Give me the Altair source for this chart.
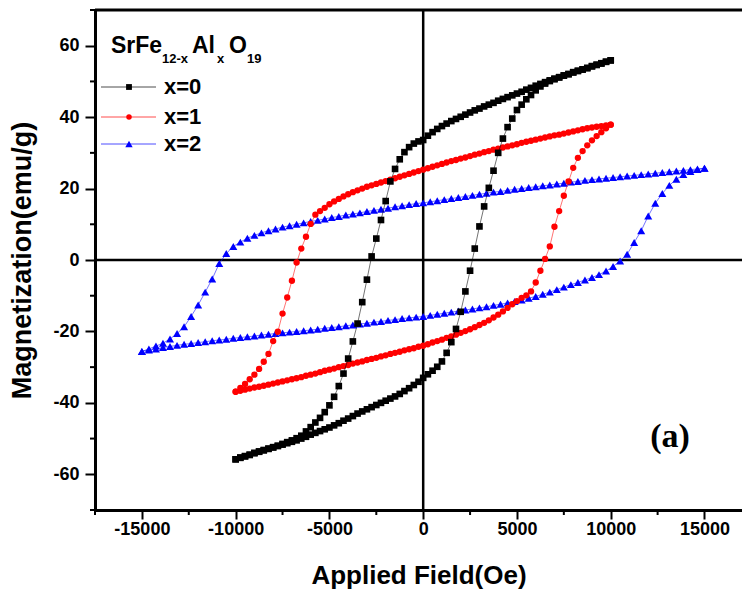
import altair as alt
import pandas as pd

# ---------------- data ----------------
H_BR = [-10000, -9750, -9500, -9250, -9000, -8750, -8500, -8250, -8000, -7750,
        -7500, -7250, -7000, -6750, -6500, -6250, -6000, -5750, -5500, -5250,
        -5000, -4750, -4500, -4250, -4000, -3750, -3500, -3250, -3000, -2750,
        -2500, -2250, -2000, -1750, -1500, -1250, -1000, -750, -500, -250,
        0, 250, 500, 750, 1000, 1250, 1500, 1750, 2000, 2250,
        2500, 2750, 3000, 3250, 3500, 3750, 4000, 4250, 4500, 4750,
        5000, 5250, 5500, 5750, 6000, 6250, 6500, 6750, 7000, 7250,
        7500, 7750, 8000, 8250, 8500, 8750, 9000, 9250, 9500, 9750,
        10000]

H_BLUE = [-15000, -14625, -14250, -13875, -13500, -13125, -12750, -12375, -12000, -11625,
          -11250, -10875, -10500, -10125, -9750, -9375, -9000, -8625, -8250, -7875,
          -7500, -7125, -6750, -6375, -6000, -5625, -5250, -4875, -4500, -4125,
          -3750, -3375, -3000, -2625, -2250, -1875, -1500, -1125, -750, -375,
          0, 375, 750, 1125, 1500, 1875, 2250, 2625, 3000, 3375,
          3750, 4125, 4500, 4875, 5250, 5625, 6000, 6375, 6750, 7125,
          7500, 7875, 8250, 8625, 9000, 9375, 9750, 10125, 10500, 10875,
          11250, 11625, 12000, 12375, 12750, 13125, 13500, 13875, 14250, 14625,
          15000]

# x=0 : descending (upper) branch and ascending (lower) branch, listed at H_BR
M0_UPPER = [-55.8, -55.3, -54.9, -54.5, -54.0, -53.6, -53.2, -52.8, -52.4, -52.0,
            -51.5, -51.0, -50.5, -49.9, -49.2, -48.0, -46.8, -45.5, -44.2, -42.6,
            -40.7, -38.3, -35.3, -31.8, -27.6, -22.8, -17.8, -11.8, -5.5, 1.0,
            6.0, 11.2, 16.5, 22.0, 25.5, 28.2, 30.2, 31.6, 32.6, 33.2,
            33.6, 34.8, 35.8, 36.7, 37.5, 38.2, 38.9, 39.5, 40.1, 40.7,
            41.3, 41.9, 42.4, 43.0, 43.5, 44.0, 44.6, 45.1, 45.6, 46.1,
            46.6, 47.1, 47.7, 48.2, 48.8, 49.3, 49.8, 50.3, 50.8, 51.2,
            51.7, 52.1, 52.6, 53.0, 53.4, 53.8, 54.3, 54.7, 55.1, 55.5,
            55.9]
M0_LOWER = [-55.8, -55.4, -55.0, -54.6, -54.1, -53.7, -53.3, -52.9, -52.5, -52.1,
            -51.7, -51.3, -50.9, -50.5, -50.0, -49.5, -48.9, -48.4, -47.9, -47.4,
            -46.9, -46.3, -45.7, -45.0, -44.4, -43.7, -43.0, -42.4, -41.8, -41.2,
            -40.6, -40.0, -39.4, -38.8, -38.2, -37.5, -36.7, -35.9, -35.0, -34.1,
            -33.0, -32.0, -31.0, -29.9, -28.4, -26.0, -23.0, -19.3, -14.5, -8.8,
            -3.0, 3.2, 9.4, 15.0, 20.2, 25.0, 30.0, 34.0, 37.2, 39.6,
            42.0, 43.5, 45.0, 46.2, 47.5, 48.6, 49.4, 50.1, 50.6, 51.1,
            51.6, 52.0, 52.5, 52.9, 53.3, 53.7, 54.2, 54.6, 55.0, 55.5,
            55.9]

# x=1
M1_UPPER = [-36.9, -35.8, -34.7, -33.4, -32.1, -30.5, -28.5, -26.3, -22.7, -20.1,
            -15.0, -10.5, -5.8, -0.7, 3.2, 6.5, 10.1, 12.7, 13.7, 14.6,
            15.6, 16.4, 17.1, 17.8, 18.4, 19.0, 19.5, 20.0, 20.5, 20.9,
            21.3, 21.7, 22.1, 22.5, 22.9, 23.3, 23.7, 24.1, 24.5, 24.9,
            25.3, 25.7, 26.1, 26.5, 26.9, 27.3, 27.7, 28.0, 28.4, 28.7,
            29.1, 29.5, 29.8, 30.2, 30.5, 30.9, 31.2, 31.5, 31.8, 32.1,
            32.4, 32.8, 33.1, 33.4, 33.7, 34.0, 34.3, 34.6, 34.9, 35.1,
            35.4, 35.7, 36.0, 36.3, 36.6, 36.9, 37.1, 37.3, 37.5, 37.7,
            37.9]
M1_LOWER = [-36.9, -36.6, -36.3, -36.0, -35.7, -35.5, -35.2, -34.9, -34.6, -34.3,
            -34.0, -33.7, -33.4, -33.1, -32.8, -32.4, -32.1, -31.8, -31.4, -31.0,
            -30.7, -30.4, -30.0, -29.7, -29.4, -29.0, -28.7, -28.4, -28.0, -27.7,
            -27.4, -27.0, -26.7, -26.3, -26.0, -25.7, -25.3, -25.0, -24.7, -24.3,
            -24.0, -23.6, -23.1, -22.7, -22.3, -21.8, -21.4, -20.9, -20.4, -19.9,
            -19.4, -18.8, -18.2, -17.6, -16.9, -16.1, -15.3, -14.4, -13.4, -12.4,
            -11.5, -10.6, -9.9, -8.8, -6.3, -3.0, 0.3, 3.8, 9.3, 13.7,
            18.0, 22.0, 25.8, 28.6, 30.5, 32.1, 33.5, 34.7, 35.8, 36.9,
            37.9]

# x=2, listed at H_BLUE
M2_UPPER = [-25.6, -24.9, -24.1, -23.3, -22.1, -20.6, -18.7, -15.8, -12.6, -9.0,
            -5.3, -1.0, 1.8, 3.8, 5.0, 6.1, 6.9, 7.6, 8.2, 8.7,
            9.2, 9.6, 10.0, 10.4, 10.8, 11.1, 11.5, 11.9, 12.2, 12.6,
            12.9, 13.2, 13.6, 13.9, 14.2, 14.5, 14.9, 15.2, 15.5, 15.8,
            16.0, 16.3, 16.6, 16.9, 17.2, 17.5, 17.8, 18.1, 18.4, 18.7,
            19.0, 19.2, 19.5, 19.8, 20.0, 20.3, 20.5, 20.8, 21.0, 21.3,
            21.5, 21.8, 22.0, 22.3, 22.5, 22.7, 22.9, 23.1, 23.3, 23.5,
            23.7, 23.9, 24.1, 24.3, 24.5, 24.7, 24.9, 25.1, 25.3, 25.5,
            25.7]
M2_LOWER = [-25.6, -25.2, -24.9, -24.5, -24.2, -23.9, -23.6, -23.4, -23.1, -22.9,
            -22.6, -22.4, -22.2, -21.9, -21.7, -21.5, -21.3, -21.0, -20.8, -20.6,
            -20.4, -20.2, -20.0, -19.8, -19.6, -19.4, -19.1, -18.9, -18.7, -18.4,
            -18.2, -17.9, -17.7, -17.4, -17.2, -16.9, -16.7, -16.4, -16.2, -16.0,
            -15.8, -15.5, -15.2, -14.9, -14.6, -14.3, -14.0, -13.7, -13.4, -13.1,
            -12.7, -12.4, -12.0, -11.6, -11.2, -10.7, -10.2, -9.6, -9.0, -8.3,
            -7.6, -6.9, -6.3, -5.6, -4.9, -4.1, -3.1, -1.8, -0.3, 1.6,
            4.9, 8.2, 12.3, 15.9, 18.6, 20.9, 22.6, 23.9, 24.8, 25.3,
            25.7]

SERIES = ["x=0", "x=1", "x=2"]
COLORS = ["#000000", "#ff0000", "#0000ff"]
SHAPES = ["square", "circle", "triangle-up"]
SIZES = [44, 40, 64]

X_MAJOR = [-15000, -10000, -5000, 0, 5000, 10000, 15000]
X_MINOR = [-17500, -12500, -7500, -2500, 2500, 7500, 12500]
Y_MAJOR = [-60, -40, -20, 0, 20, 40, 60]
Y_MINOR = [-70, -50, -30, -10, 10, 30, 50, 70]


def loop_frame(name, h, upper, lower):
    rows = []
    k = 0
    for hv, mv in zip(reversed(h), reversed(upper)):
        rows.append({"H": hv, "M": mv, "series": name, "step": k})
        k += 1
    for hv, mv in zip(h, lower):
        rows.append({"H": hv, "M": mv, "series": name, "step": k})
        k += 1
    return pd.DataFrame(rows)


loops = [
    loop_frame("x=0", H_BR, M0_UPPER, M0_LOWER),
    loop_frame("x=1", H_BR, M1_UPPER, M1_LOWER),
    loop_frame("x=2", H_BLUE, M2_UPPER, M2_LOWER),
]

FONT = "Liberation Sans"
W, H = 647, 500

xscale = alt.Scale(domain=[-17500, 17000], nice=False, zero=False)
yscale = alt.Scale(domain=[-70, 70], nice=False, zero=False)

x_axis = alt.Axis(values=X_MAJOR, title="Applied Field(Oe)", labelExpr="'' + datum.value",
                  titleFont=FONT, titleFontSize=26, titleFontWeight="bold", titleColor="black",
                  titlePadding=24, labelFont=FONT, labelFontSize=18, labelFontWeight="bold",
                  labelColor="black", labelPadding=1, tickSize=9, tickWidth=2, tickColor="black",
                  domainWidth=3, domainColor="black", grid=False, labelFlush=False)
y_axis = alt.Axis(values=Y_MAJOR, title="Magnetization(emu/g)", labelExpr="'' + datum.value",
                  titleFont=FONT, titleFontSize=27, titleFontWeight="bold", titleColor="black",
                  titlePadding=16, labelFont=FONT, labelFontSize=18, labelFontWeight="bold",
                  labelColor="black", labelPadding=6, tickSize=10, tickWidth=2, tickColor="black",
                  domainWidth=3, domainColor="black", grid=False, labelFlush=False)


def X():
    return alt.X("H:Q", scale=xscale, axis=x_axis, title="Applied Field(Oe)")


def Y():
    return alt.Y("M:Q", scale=yscale, axis=y_axis, title="Magnetization(emu/g)")


layers = []

# zero lines
layers.append(alt.Chart(pd.DataFrame({"H": [0]})).mark_rule(color="black", strokeWidth=2.5).encode(x=X()))
layers.append(alt.Chart(pd.DataFrame({"M": [0]})).mark_rule(color="black", strokeWidth=2.5).encode(y=Y()))

one_df = pd.DataFrame({"k": [0]})
# top frame line
layers.append(alt.Chart(one_df).mark_rule(color="black", strokeWidth=3).encode(
    x=alt.value(0), x2=alt.value(W), y=alt.value(0)))

# minor ticks
layers.append(alt.Chart(pd.DataFrame({"H": X_MINOR})).mark_rule(color="black", strokeWidth=2).encode(
    x=X(), y=alt.value(H), y2=alt.value(H + 5)))
layers.append(alt.Chart(pd.DataFrame({"M": Y_MINOR})).mark_rule(color="black", strokeWidth=2).encode(
    y=Y(), x=alt.value(0), x2=alt.value(-5)))

# series: lines then markers, blue first, black last
for idx in [2, 1, 0]:
    df = loops[idx]
    layers.append(alt.Chart(df).mark_line(strokeWidth=1, color=COLORS[idx], opacity=0.55).encode(
        x=X(), y=Y(), order="step:Q"))
    layers.append(alt.Chart(df).mark_point(shape=SHAPES[idx], size=SIZES[idx], filled=True,
                                           color=COLORS[idx], opacity=1).encode(x=X(), y=Y()))

# legend (manual)
LEG_Y = [77, 107, 134]
for i, name in enumerate(SERIES):
    one = pd.DataFrame({"label": [name]})
    layers.append(alt.Chart(one).mark_rule(color=COLORS[i], strokeWidth=1, opacity=0.7).encode(
        x=alt.value(6), x2=alt.value(61), y=alt.value(LEG_Y[i])))
    layers.append(alt.Chart(one).mark_point(shape=SHAPES[i], size=SIZES[i] - 10, filled=True,
                                            color=COLORS[i], opacity=1).encode(
        x=alt.value(34), y=alt.value(LEG_Y[i])))
    layers.append(alt.Chart(one).mark_text(align="left", baseline="middle", font=FONT,
                                           fontSize=22, fontWeight="bold", color="black").encode(
        x=alt.value(69), y=alt.value(LEG_Y[i]), text="label:N"))

# legend title with subscripts
TITLE_PARTS = [("SrFe", 16, 43, 23), ("12-x", 67, 53, 13), ("Al", 97, 43, 23),
               ("x", 122, 53, 13), ("O", 134, 43, 23), ("19", 152, 53, 13)]
for txt, px, py, fs in TITLE_PARTS:
    layers.append(alt.Chart(one_df).mark_text(align="left", baseline="alphabetic", font=FONT,
                                              fontSize=fs, fontWeight="bold", color="black").encode(
        x=alt.value(px), y=alt.value(py), text=alt.value(txt)))

# panel label
layers.append(alt.Chart(one_df).mark_text(align="center", baseline="middle", font="Liberation Serif",
                                          fontSize=34, fontWeight="bold", color="black").encode(
    x=alt.value(575), y=alt.value(427), text=alt.value("(a)")))

chart = alt.layer(*layers).properties(
    width=W, height=H,
    autosize=alt.AutoSizeParams(type="none"),
    padding={"left": 95, "top": 10, "right": 0, "bottom": 85},
    background="white",
).configure_view(stroke=None)

chart.save("out.html", embed_options={"renderer": "svg", "actions": False})
